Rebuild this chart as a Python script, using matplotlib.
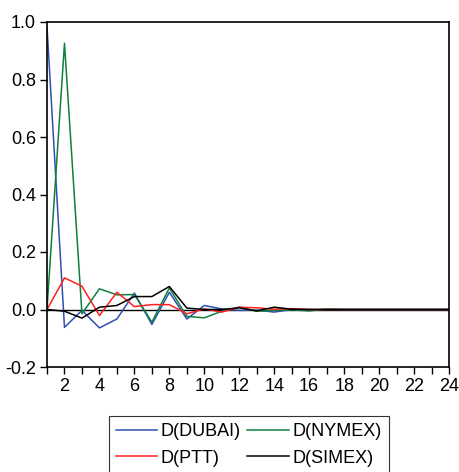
import matplotlib
matplotlib.use("Agg")
import matplotlib.pyplot as plt
import numpy as np

plt.rcParams['font.family'] = ['Liberation Sans', 'DejaVu Sans']

periods = list(range(1, 25))
dubai = [0.984, -0.062, -0.003, -0.064, -0.033, 0.057, -0.052, 0.060, -0.033, 0.014, 0.002,
         -0.003, -0.002, -0.009, 0.0, 0.0, 0.0, 0.0, 0.0, 0.0, 0.0, 0.0, 0.0, 0.0]
nymex = [0.0, 0.926, -0.015, 0.072, 0.051, 0.052, -0.044, 0.075, -0.024, -0.029, -0.006,
         0.008, -0.006, -0.003, -0.001, -0.005, 0.002, 0.0, 0.0, 0.0, 0.0, 0.0, 0.0, 0.0]
ptt = [0.0, 0.110, 0.081, -0.021, 0.060, 0.010, 0.017, 0.017, -0.015, 0.002, -0.009,
       0.008, 0.006, 0.001, 0.003, 0.0, 0.0, 0.0, 0.0, 0.0, 0.0, 0.0, 0.0, 0.0]
simex = [0.0, -0.006, -0.030, 0.008, 0.014, 0.045, 0.045, 0.080, 0.005, 0.0, 0.0,
         0.006, -0.005, 0.008, 0.001, 0.0, 0.0, 0.0, 0.0, 0.0, 0.0, 0.0, 0.0, 0.0]
series_names = ['D(DUBAI)', 'D(PTT)', 'D(NYMEX)', 'D(SIMEX)']
colors = {'D(DUBAI)': '#2f4fb0', 'D(NYMEX)': '#108040', 'D(PTT)': '#ff2020', 'D(SIMEX)': '#000000'}
yticks = [-0.2, 0.0, 0.2, 0.4, 0.6, 0.8, 1.0]
xticklabels = list(range(2, 25, 2))

fig = plt.figure(figsize=(4.59, 4.72), dpi=100)
ax = fig.add_axes([47/459, 1-367/472, (449-47)/459, (367-22)/472])

data = {'D(DUBAI)': dubai, 'D(NYMEX)': nymex, 'D(PTT)': ptt, 'D(SIMEX)': simex}
ax.axhline(0, color='black', lw=1.0, zorder=1)
handles = {}
for name in ['D(DUBAI)', 'D(NYMEX)', 'D(PTT)', 'D(SIMEX)']:
    h, = ax.plot(periods, data[name], color=colors[name], lw=1.1, zorder=2)
    handles[name] = h

ax.set_xlim(1, 24)
ax.set_ylim(-0.2, 1.0)
ax.set_xticks(periods)
ax.set_xticklabels([str(p) if p in xticklabels else '' for p in periods])
ax.set_yticks(yticks)
ax.set_yticklabels([f'{v:.1f}' for v in yticks])
ax.tick_params(direction='out', length=5, width=1, labelsize=13, colors='black', pad=3)
for s in ax.spines.values():
    s.set_linewidth(1.2)

leg = fig.legend([handles[n] for n in series_names], series_names,
                 loc='upper left', bbox_to_anchor=(109/459, 1-416/472), ncol=2,
                 frameon=True, fancybox=False, edgecolor='black', fontsize=13,
                 handlelength=2.3, handletextpad=0.2, columnspacing=0.35,
                 labelspacing=0.55, borderpad=0.38, borderaxespad=0)
leg.get_frame().set_linewidth(0.8)

fig.savefig('out.png', dpi=100)
